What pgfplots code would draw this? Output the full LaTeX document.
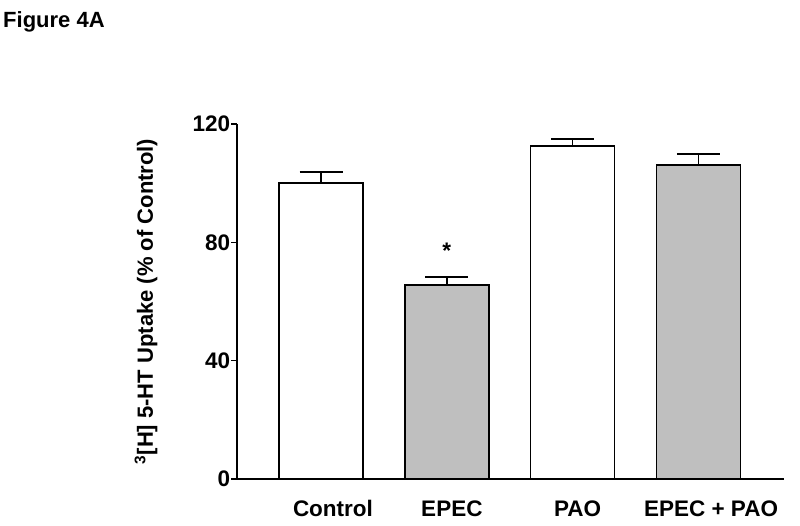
\documentclass[border=0pt]{standalone}
\usepackage{fontspec}
\setmainfont{Liberation Sans}
\usepackage{pgfplots}
\pgfplotsset{compat=1.18}
\begin{document}
\begin{tikzpicture}
\path[use as bounding box] (0,0) rectangle (800pt,525pt);
\node[anchor=base west, inner sep=0pt, font=\fontsize{22}{26}\selectfont\bfseries] at (3pt,497pt) {Figure 4A};
\begin{axis}[
    at={(237pt,46pt)}, anchor=south west,
    scale only axis, width=547pt, height=355pt,
    xmin=-0.668, xmax=3.68, ymin=0, ymax=120,
    axis x line*=bottom, axis y line*=left,
    axis line style={line width=1.4pt, -},
    every tick/.style={line width=1.4pt, black},
    tick align=outside, major tick length=5.7pt,
    ytick={0,40,80,120},
    xtick={0.095,1.04,2.04,3.1},
    xticklabels={Control,EPEC,PAO,EPEC + PAO},
    x tick style={draw=none},
    /pgf/number format/assume math mode=true,
    ticklabel style={font=\fontsize{22.5}{26}\selectfont\bfseries},
    yticklabel style={inner xsep=1pt},
    xticklabel style={anchor=base, inner sep=0pt, yshift=-32pt},
    ylabel={\textsuperscript{3}[H] 5-HT Uptake (\% of Control)},
    ylabel style={at={(axis description cs:-0.1664,0.5)}, anchor=center,
        font=\fontsize{22}{26}\selectfont\bfseries},
    clip=false,
]
\addplot[ybar, bar width=0.668, bar shift=0pt, fill=white, draw=black, line width=1.4pt,
    error bars/.cd, y dir=plus, y explicit,
    error bar style={line width=1.4pt, black},
    error mark options={line width=1.4pt, mark size=21.5pt, black, rotate=90}]
    coordinates {(0,100) +- (0,3.8) (2,112.6) +- (0,2.3)};
\addplot[ybar, bar width=0.668, bar shift=0pt, fill=gray!50, draw=black, line width=1.4pt,
    error bars/.cd, y dir=plus, y explicit,
    error bar style={line width=1.4pt, black},
    error mark options={line width=1.4pt, mark size=21.5pt, black, rotate=90}]
    coordinates {(1,65.6) +- (0,2.7) (3,106.2) +- (0,3.7)};
\node[anchor=base, inner sep=0pt, font=\fontsize{22.5}{26}\selectfont\bfseries] at (axis cs:1,74.5) {*};
\end{axis}
\end{tikzpicture}
\end{document}
